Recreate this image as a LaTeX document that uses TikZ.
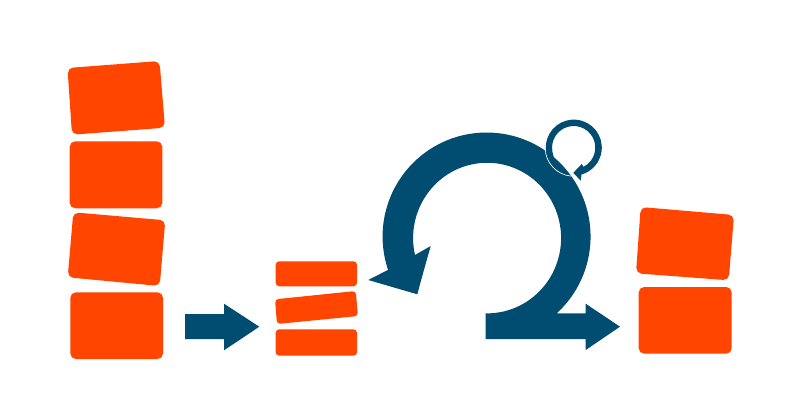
\documentclass[tikz,border=0pt]{standalone}
\definecolor{blk}{HTML}{FF4500}
\definecolor{arw}{HTML}{004D71}
\tikzset{
  blockpoly/.style={fill=blk,rounded corners=5.5pt},
  flow/.style={fill=arw},
  halo/.style={draw=white,line width=0.8pt}
}
\begin{document}
\begin{tikzpicture}[x=1pt,y=1pt,yscale=-1]
\useasboundingbox (0,0) rectangle (795,418);
\fill[white] (0,0) rectangle (795,418);
% left stack
\path[blockpoly] (67.5,68) -- (159.5,61) -- (165,127.7) -- (72,134.7) -- cycle;
\path[blockpoly] (69.7,141.3) -- (162.3,141.3) -- (162.3,208.3) -- (69.7,208.3) -- cycle;
\path[blockpoly] (73.3,212.3) -- (165.3,220.3) -- (159.7,286) -- (67.7,277.3) -- cycle;
\path[blockpoly] (70.3,292.3) -- (163,292.3) -- (163,359) -- (70.3,359) -- cycle;
% middle stack
\path[blockpoly,rounded corners=3.5pt] (275.7,261.3) -- (357,261.3) -- (357,286.3) -- (275.7,286.3) -- cycle;
\path[blockpoly,rounded corners=3.5pt] (275,299.3) -- (355.7,291) -- (358,316) -- (277,324) -- cycle;
\path[blockpoly,rounded corners=3.5pt] (275.7,329.3) -- (357,329.3) -- (357,355.7) -- (275.7,355.7) -- cycle;
% right stack
\path[blockpoly] (640.7,207) -- (734,215) -- (728.7,280.3) -- (636,273.3) -- cycle;
\path[blockpoly] (638.7,287) -- (731.7,287) -- (731.7,353.7) -- (638.7,353.7) -- cycle;
% first arrow
\path[flow] (185,314) -- (224,314) -- (224,303.7) -- (259.3,326.7) -- (224,350.3) -- (224,339) -- (185,339) -- cycle;
% big loop
\path[flow] (556.7,313.3)
  arc[start angle=47.6,end angle=-198.7,radius=104pt]
  -- (368.3,280) -- (417.3,294.3) -- (421.7,278) -- (430.7,246) -- (415,255)
  arc[start angle=-193,end angle=90,x radius=74pt,y radius=75.3pt]
  -- (485.7,313.3) -- (485.7,339) -- (585.7,339) -- (585.7,350) -- (620,326.7) -- (585.7,303.7) -- (585.7,313.3) -- cycle;
% small loop
\coordinate (sc) at (573.8,147.6);
\path[halo] (sc) ++(95:28.6pt) arc[start angle=95,end angle=178,radius=28.6pt];
\path[flow] (sc) ++(97:28pt)
  arc[start angle=97,end angle=434,radius=28pt]
  -- (580.7,180.7) -- (573.3,172.8) -- (581.7,164) -- (583.6,166.8)
  arc[start angle=422.7,end angle=180,radius=21.6pt]
  .. controls (552.2,160) and (560,169.5) .. (570.4,175.4) -- cycle;
\end{tikzpicture}
\end{document}
